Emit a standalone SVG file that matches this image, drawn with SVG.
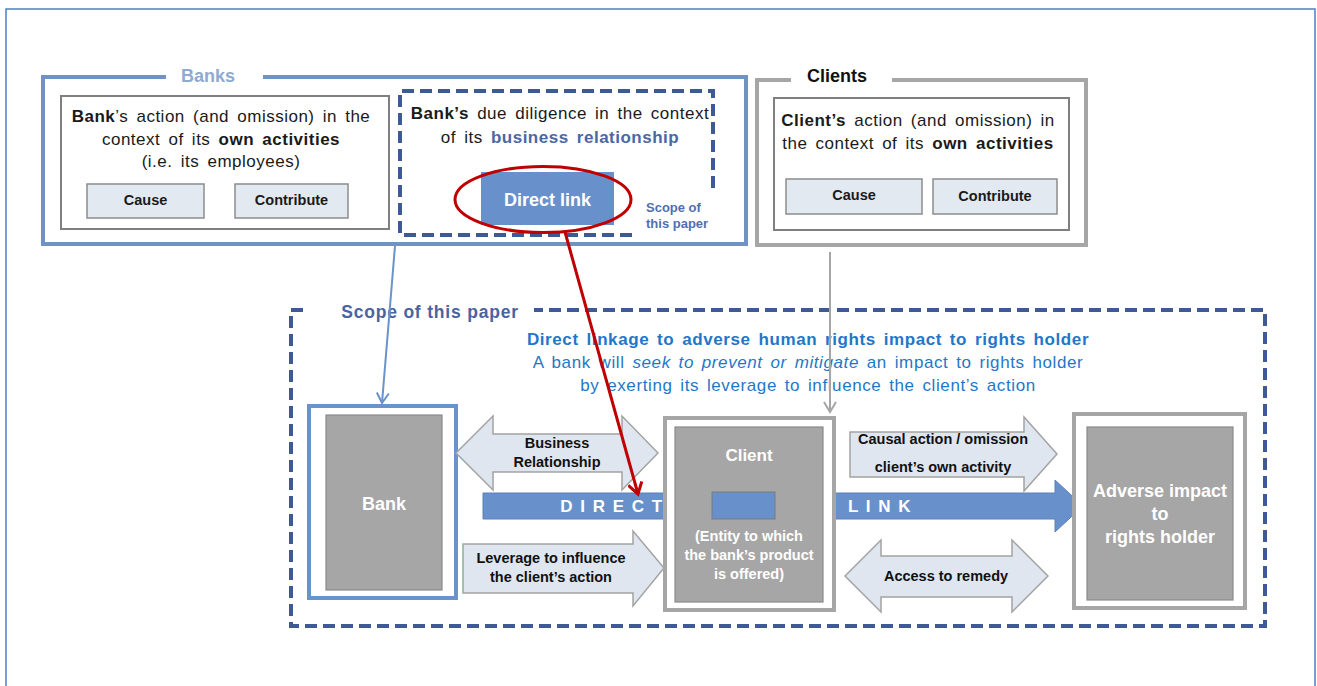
<svg xmlns="http://www.w3.org/2000/svg" width="1317" height="686" viewBox="0 0 1317 686">
<defs>
<style>
text{font-family:"Liberation Sans",Arial,sans-serif;}
.b{font-weight:bold;}
.t17{font-size:17px;fill:#1a1a1a;letter-spacing:0.5px;word-spacing:3px;}
.btn{fill:#e3e9f1;stroke:#8c8c8c;stroke-width:1.5;}
.btnt{font-size:14.5px;font-weight:bold;fill:#1a1a1a;text-anchor:middle;}
.dash{fill:none;stroke:#3d5a96;stroke-width:4;stroke-dasharray:12 6;}
.gnode{fill:#a6a6a6;stroke:#8a8a8a;stroke-width:1.2;}
.wt{fill:#ffffff;font-weight:bold;text-anchor:middle;}
.ga{fill:#dfe6ef;stroke:#a3a3a3;stroke-width:1.5;}
.at{font-size:14.5px;font-weight:bold;fill:#111;text-anchor:middle;}
.bl{fill:#1f77c9;font-size:17px;text-anchor:middle;letter-spacing:0.6px;word-spacing:2.5px;}
</style>
<marker id="ab" markerWidth="14" markerHeight="14" refX="11" refY="7" orient="auto" markerUnits="userSpaceOnUse"><path d="M1,1 L11,7 L1,13" fill="none" stroke="#6a93cb" stroke-width="2"/></marker>
<marker id="ag" markerWidth="14" markerHeight="14" refX="11" refY="7" orient="auto" markerUnits="userSpaceOnUse"><path d="M1,1 L11,7 L1,13" fill="none" stroke="#a6a6a6" stroke-width="2"/></marker>
<marker id="ar" markerWidth="16" markerHeight="16" refX="12" refY="8" orient="auto" markerUnits="userSpaceOnUse"><path d="M1,1 L12,8 L1,15" fill="none" stroke="#c00000" stroke-width="3"/></marker>
</defs>
<rect x="0" y="0" width="1317" height="686" fill="#ffffff"/>
<rect x="6" y="9" width="1309" height="700" fill="none" stroke="#4f7fbd" stroke-width="1.5"/>

<g id="banks">
<path d="M166,77 L43,77 L43,244 L746,244 L746,77 L263,77" fill="none" stroke="#7093c3" stroke-width="4"/>
<text x="208" y="82" class="b" font-size="18" fill="#8eaad3" text-anchor="middle">Banks</text>
</g>

<g id="bank-own">
<rect x="61" y="96" width="328" height="133" fill="#fff" stroke="#7f7f7f" stroke-width="2"/>
<text x="221" y="122" class="t17" text-anchor="middle"><tspan class="b">Bank</tspan>’s action (and omission) in the</text>
<text x="221" y="145" class="t17" text-anchor="middle">context of its <tspan class="b">own activities</tspan></text>
<text x="221" y="167" class="t17" text-anchor="middle">(i.e. its employees)</text>
<rect class="btn" x="87" y="184" width="117" height="34"/>
<text class="btnt" x="145.5" y="205">Cause</text>
<rect class="btn" x="235" y="184" width="113" height="34"/>
<text class="btnt" x="291.5" y="205">Contribute</text>
</g>

<g id="bank-dd">
<path class="dash" d="M632,235 L400,235 L400,91 L713,91 L713,190"/>
<text x="560" y="119" class="t17" text-anchor="middle"><tspan class="b">Bank’s</tspan> due diligence in the context</text>
<text x="560" y="143" class="t17" text-anchor="middle">of its <tspan class="b" fill="#4a67a6">business relationship</tspan></text>
<rect x="481" y="172" width="133" height="53" fill="#6891cb"/>
<text x="547.5" y="206" class="wt" font-size="18">Direct link</text>
<ellipse cx="543" cy="199.5" rx="88" ry="33" fill="none" stroke="#c00000" stroke-width="3"/>
<text x="646" y="212" class="b" font-size="13" fill="#4f6fb0">Scope of</text>
<text x="646" y="228" class="b" font-size="13" fill="#4f6fb0">this paper</text>
</g>

<g id="clients">
<path d="M791,80 L757,80 L757,245 L1086,245 L1086,80 L892,80" fill="none" stroke="#a6a6a6" stroke-width="4"/>
<text x="837" y="82" class="b" font-size="18" fill="#111" text-anchor="middle">Clients</text>
</g>

<g id="client-own">
<rect x="774" y="98" width="295" height="132" fill="#fff" stroke="#7f7f7f" stroke-width="2"/>
<text x="918" y="126" class="t17" text-anchor="middle"><tspan class="b">Client’s</tspan> action (and omission) in</text>
<text x="918" y="149" class="t17" text-anchor="middle">the context of its <tspan class="b">own activities</tspan></text>
<rect class="btn" x="786" y="179" width="136" height="35"/>
<text class="btnt" x="854" y="200">Cause</text>
<rect class="btn" x="933" y="179" width="124" height="35"/>
<text class="btnt" x="995" y="201">Contribute</text>
</g>

<g id="scope">
<path class="dash" d="M303,310 L291,310 L291,626 L1265,626 L1265,310 L534,310"/>
<text x="430" y="318" class="b" font-size="17.5" fill="#4a64a0" text-anchor="middle" letter-spacing="0.8">Scope of this paper</text>
<text x="808" y="345" class="bl b">Direct linkage to adverse human rights impact to rights holder</text>
<text x="808" y="368" class="bl">A bank will <tspan font-style="italic">seek to prevent or mitigate</tspan> an impact to rights holder</text>
<text x="808" y="391" class="bl">by exerting its leverage to influence the client’s action</text>
</g>

<g id="direct-link-arrow">
<path d="M483,493 L1055,493 L1055,480 L1083,506 L1055,532 L1055,519 L483,519 Z" fill="#6891cb" stroke="#5b80b8" stroke-width="1"/>
<text x="612" y="512" class="wt" font-size="17" letter-spacing="1.5">D I R E C T</text>
<text x="880" y="512" class="wt" font-size="17" letter-spacing="1.5">L I N K</text>
</g>

<g id="bank">
<rect x="309" y="406" width="147" height="192" fill="#fff" stroke="#6a93cb" stroke-width="4"/>
<rect class="gnode" x="326" y="415" width="116" height="175"/>
<text x="384" y="510" class="wt" font-size="18">Bank</text>
</g>

<g id="business-relationship">
<path class="ga" d="M456,453 L493,416 L493,434 L622,434 L622,416 L658,453 L622,490 L622,472 L493,472 L493,490 Z"/>
<text class="at" x="557" y="448">Business</text>
<text class="at" x="557" y="467">Relationship</text>
</g>

<g id="leverage">
<path class="ga" d="M463,544 L633,544 L633,531 L664,568 L633,606 L633,593 L463,593 Z"/>
<text class="at" x="551" y="563">Leverage to influence</text>
<text class="at" x="551" y="582">the client’s action</text>
</g>

<g id="client">
<rect x="665" y="418" width="169" height="192" fill="#fff" stroke="#a6a6a6" stroke-width="4"/>
<rect class="gnode" x="675" y="427" width="148" height="175"/>
<text x="749" y="461" class="wt" font-size="17">Client</text>
<rect x="712" y="492" width="63" height="27" fill="#6891cb" stroke="#7a7a7a" stroke-width="1"/>
<text x="749" y="541" class="wt" font-size="14.5">(Entity  to which</text>
<text x="749" y="560" class="wt" font-size="14.5">the bank’s product</text>
<text x="749" y="579" class="wt" font-size="14.5">is offered)</text>
</g>

<g id="causal">
<path class="ga" d="M850,432 L1024,432 L1024,417 L1057,454 L1024,491 L1024,477 L850,477 Z"/>
<text class="at" x="943" y="444">Causal action / omission</text>
<text class="at" x="943" y="472">client’s own activity</text>
</g>

<g id="remedy">
<path class="ga" d="M845,576 L881,540 L881,556 L1012,556 L1012,540 L1048,576 L1012,612 L1012,597 L881,597 L881,612 Z"/>
<text class="at" x="946" y="581">Access to remedy</text>
</g>

<g id="adverse">
<rect x="1074" y="414" width="171" height="194" fill="#fff" stroke="#a6a6a6" stroke-width="4"/>
<rect class="gnode" x="1087" y="427" width="146" height="173"/>
<text x="1160" y="497" class="wt" font-size="18">Adverse impact</text>
<text x="1160" y="520" class="wt" font-size="18">to</text>
<text x="1160" y="543" class="wt" font-size="18">rights holder</text>
</g>

<g id="connectors">
<line x1="395" y1="246" x2="382" y2="403" stroke="#6a93cb" stroke-width="2" marker-end="url(#ab)"/>
<line x1="830" y1="252" x2="830" y2="412" stroke="#a6a6a6" stroke-width="2" marker-end="url(#ag)"/>
<line x1="565" y1="232" x2="638" y2="494" stroke="#c00000" stroke-width="3" marker-end="url(#ar)"/>
</g>
</svg>
